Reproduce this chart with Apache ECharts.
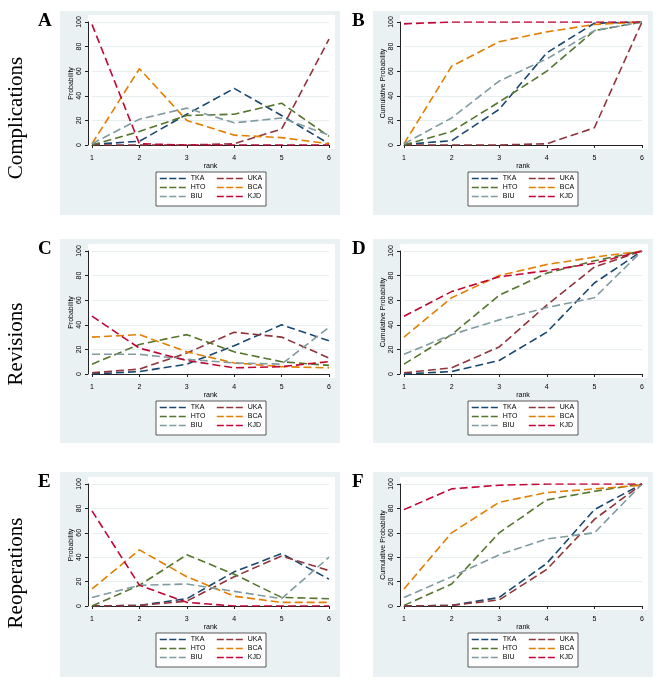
<!DOCTYPE html>
<html>
<head>
<meta charset="utf-8">
<script src="https://cdn.jsdelivr.net/npm/echarts@6/dist/echarts.min.js"></script>
<style>
  html, body { margin: 0; padding: 0; background: #ffffff; }
  #chart { width: 669px; height: 688px; }
</style>
</head>
<body>
<div id="chart"></div>
<script>
// ---------------- DATA ----------------
const ranks = [1, 2, 3, 4, 5, 6];
const treatments = ['TKA', 'UKA', 'HTO', 'BCA', 'BIU', 'KJD'];
const rowLabels = ['Complications', 'Revisions', 'Reoperations'];
const panelLetters = ['A', 'B', 'C', 'D', 'E', 'F'];
const yTitles = ['Probability', 'Cumulative Probability'];
const xTitle = 'rank';

// rows follow treatments order: TKA, UKA, HTO, BCA, BIU, KJD
const complicationsProb = [
  [0.5, 3, 25, 46, 24, 1],
  [0, 0, 0, 1, 13, 86],
  [0, 11, 24, 25, 34, 7],
  [1, 62, 20, 8, 6, 1],
  [1, 21, 30, 18, 22, 8],
  [98, 1, 0, 0, 0, 0]
];
const complicationsCum = [
  [0.5, 3.5, 29, 75, 99, 100],
  [0, 0, 0, 1, 14, 100],
  [0, 11, 35, 60, 93, 100],
  [1, 64, 84, 92, 98, 100],
  [1, 22, 52, 70, 93, 100],
  [98.5, 100, 100, 100, 100, 100]
];
const revisionsProb = [
  [0, 2, 8, 23, 40, 27],
  [1, 4, 17, 34, 30, 13],
  [8, 24, 32, 18, 10, 7],
  [30, 32, 18, 9, 6, 5],
  [16, 16, 12, 9, 8, 38],
  [47, 21, 11, 5, 6, 10]
];
const revisionsCum = [
  [0, 2, 11, 34, 74, 100],
  [1, 5, 22, 56, 87, 100],
  [8, 32, 64, 82, 92, 100],
  [30, 62, 80, 89, 95, 100],
  [16, 32, 44, 54, 62, 100],
  [47, 67, 79, 84, 90, 100]
];
const reoperationsProb = [
  [0, 0.5, 6, 28, 43, 22],
  [0, 0.5, 4, 24, 41, 29],
  [0, 17, 42, 26, 7, 6],
  [14, 46, 24, 8, 3, 3],
  [7, 17, 18, 12, 6, 40],
  [78, 17, 3, 0, 0, 0]
];
const reoperationsCum = [
  [0, 0.5, 7, 35, 79, 100],
  [0, 0.5, 5, 30, 71, 100],
  [0.5, 18, 60, 87, 94, 100],
  [14, 60, 85, 93, 96, 99],
  [7, 24, 42, 55, 60, 100],
  [79, 96, 99, 100, 100, 100]
];

// ---------------- STYLE / LAYOUT ----------------
const colors = ['#1a476f', '#90353b', '#55752f', '#e37e00', '#7f9ba0', '#c10534'];
const panelData = [complicationsProb, complicationsCum, revisionsProb, revisionsCum, reoperationsProb, reoperationsCum];

const colX = [92, 404];
const colW = [237, 238];
const rowY = [22, 251, 484];
const rowH = [123, 123, 122];
const bgX = [60, 373];
const bgY = [11, 239, 472];
const bgW = 280, bgH = 204;
const font = '"Liberation Sans", Arial, sans-serif';
const serif = '"Liberation Serif", "Times New Roman", serif';

const grids = [], xAxes = [], yAxes = [], series = [], legends = [], graphics = [];

for (let p = 0; p < 6; p++) {
  const r = Math.floor(p / 2), c = p % 2;
  const gx = colX[c], gy = rowY[r], gw = colW[c], gh = rowH[r];
  grids.push({ left: gx, top: gy, width: gw, height: gh, containLabel: false });

  xAxes.push({
    type: 'value', gridIndex: p, min: 1, max: 6, interval: 1, offset: 4,
    name: xTitle, nameLocation: 'middle', nameGap: 12,
    nameTextStyle: { fontFamily: font, fontSize: 7, color: '#000' },
    axisLine: { show: true, lineStyle: { color: '#222', width: 1 } },
    axisTick: { show: true, length: 3, lineStyle: { color: '#222' } },
    axisLabel: { fontFamily: font, fontSize: 7, color: '#000', margin: 6 },
    splitLine: { show: false }
  });
  yAxes.push({
    type: 'value', gridIndex: p, min: 0, max: 100, interval: 20, offset: 4,
    name: yTitles[c], nameLocation: 'middle', nameRotate: 90, nameGap: 13,
    nameTextStyle: { fontFamily: font, fontSize: 7, color: '#000' },
    axisLine: { show: true, lineStyle: { color: '#222', width: 1 } },
    axisTick: { show: true, length: 3, lineStyle: { color: '#222' } },
    axisLabel: { fontFamily: font, fontSize: 7, color: '#000', rotate: 90, margin: 5 },
    splitLine: { show: true, lineStyle: { color: '#e6eef0', width: 1 } }
  });

  const d = panelData[p];
  for (let s = 0; s < treatments.length; s++) {
    series.push({
      type: 'line', name: treatments[s], xAxisIndex: p, yAxisIndex: p,
      data: ranks.map((rk, i) => [rk, d[s][i]]),
      symbol: 'none', smooth: false, silent: true, animation: false,
      lineStyle: { color: colors[s], width: 1.6, type: [8, 4] },
      itemStyle: { color: colors[s] },
      z: 2 + s
    });
  }

  // background panels and plot regions
  graphics.push({ type: 'rect', z: -20, shape: { x: bgX[c], y: bgY[r], width: bgW, height: bgH + (r === 2 ? 1 : 0) }, style: { fill: '#eaf1f3' } });
  graphics.push({ type: 'rect', z: -10, shape: { x: gx - 4, y: gy - 7, width: gw + 10, height: gh + 11 }, style: { fill: '#ffffff' } });

  // legend box
  const lx = gx + 64, ly = gy + gh + 4 + 23;
  graphics.push({ type: 'rect', z: 1, shape: { x: lx, y: ly, width: 110, height: 34 }, style: { fill: '#ffffff', stroke: '#333', lineWidth: 0.8 } });
  const legCommon = {
    orient: 'vertical', itemWidth: 26, itemHeight: 8, itemGap: 2, padding: 0,
    selectedMode: false,
    itemStyle: { color: 'transparent', borderWidth: 0, opacity: 0 },
    lineStyle: { width: 1.6, type: [7, 2.5] },
    textStyle: { fontFamily: font, fontSize: 7, color: '#000' }, z: 5
  };
  legends.push(Object.assign({}, legCommon, { left: lx + 3, top: ly + 3, data: ['TKA', 'HTO', 'BIU'] }));
  legends.push(Object.assign({}, legCommon, { left: lx + 60, top: ly + 3, data: ['UKA', 'BCA', 'KJD'] }));

  // panel letter
  graphics.push({ type: 'text', z: 10, left: c === 0 ? 38 : 352, top: bgY[r] + 1,
    style: { text: panelLetters[p], font: 'bold 19px ' + serif, fill: '#000' } });
}

// row labels
const rowCenters = [118, 344, 573];
for (let r = 0; r < 3; r++) {
  graphics.push({ type: 'text', z: 10, x: 16, y: rowCenters[r], rotation: Math.PI / 2,
    style: { text: rowLabels[r], font: '21px ' + serif, fill: '#000', textAlign: 'center', textVerticalAlign: 'middle' } });
}

const chart = echarts.init(document.getElementById('chart'), null, { renderer: 'canvas' });
chart.setOption({
  backgroundColor: '#ffffff',
  animation: false,
  grid: grids,
  xAxis: xAxes,
  yAxis: yAxes,
  legend: legends,
  series: series,
  graphic: { elements: graphics }
});
</script>
</body>
</html>
